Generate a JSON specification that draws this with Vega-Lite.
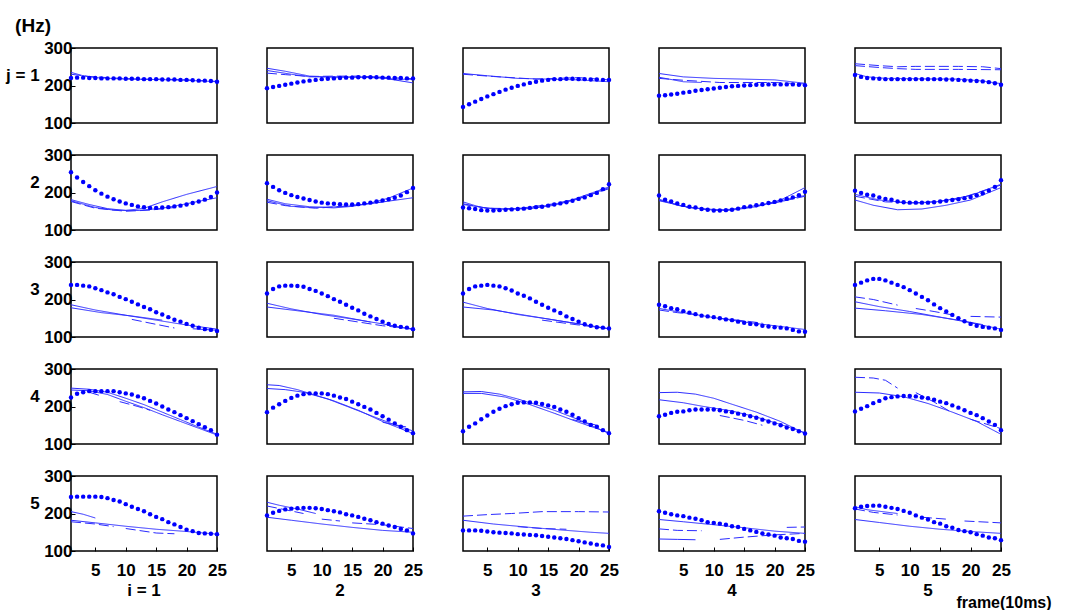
{
 "$schema": "https://vega.github.io/schema/vega-lite/v6.json",
 "padding": {"left": 6, "top": 17, "right": 0, "bottom": 0},
 "background": "white",
 "bounds": "flush",
 "title": {"text": "(Hz)", "anchor": "start", "frame": "bounds", "font": "Liberation Sans", "fontSize": 19, "fontWeight": "bold", "color": "black", "offset": 3, "dx": 9},
 "data": {"values": [
{"i":1,"j":1,"s":"d","x":1,"y":220},{"i":1,"j":1,"s":"d","x":2,"y":221},{"i":1,"j":1,"s":"d","x":3,"y":221},{"i":1,"j":1,"s":"d","x":4,"y":220},{"i":1,"j":1,"s":"d","x":5,"y":220},{"i":1,"j":1,"s":"d","x":6,"y":219},{"i":1,"j":1,"s":"d","x":7,"y":219},{"i":1,"j":1,"s":"d","x":8,"y":219},{"i":1,"j":1,"s":"d","x":9,"y":219},{"i":1,"j":1,"s":"d","x":10,"y":218},{"i":1,"j":1,"s":"d","x":11,"y":218},{"i":1,"j":1,"s":"d","x":12,"y":218},{"i":1,"j":1,"s":"d","x":13,"y":217},{"i":1,"j":1,"s":"d","x":14,"y":217},{"i":1,"j":1,"s":"d","x":15,"y":217},{"i":1,"j":1,"s":"d","x":16,"y":216},{"i":1,"j":1,"s":"d","x":17,"y":216},{"i":1,"j":1,"s":"d","x":18,"y":216},{"i":1,"j":1,"s":"d","x":19,"y":215},{"i":1,"j":1,"s":"d","x":20,"y":215},{"i":1,"j":1,"s":"d","x":21,"y":214},{"i":1,"j":1,"s":"d","x":22,"y":213},{"i":1,"j":1,"s":"d","x":23,"y":213},{"i":1,"j":1,"s":"d","x":24,"y":212},{"i":1,"j":1,"s":"d","x":25,"y":210},
{"i":2,"j":1,"s":"d","x":1,"y":193},{"i":2,"j":1,"s":"d","x":2,"y":196},{"i":2,"j":1,"s":"d","x":3,"y":199},{"i":2,"j":1,"s":"d","x":4,"y":202},{"i":2,"j":1,"s":"d","x":5,"y":205},{"i":2,"j":1,"s":"d","x":6,"y":208},{"i":2,"j":1,"s":"d","x":7,"y":211},{"i":2,"j":1,"s":"d","x":8,"y":213},{"i":2,"j":1,"s":"d","x":9,"y":215},{"i":2,"j":1,"s":"d","x":10,"y":217},{"i":2,"j":1,"s":"d","x":11,"y":218},{"i":2,"j":1,"s":"d","x":12,"y":219},{"i":2,"j":1,"s":"d","x":13,"y":220},{"i":2,"j":1,"s":"d","x":14,"y":221},{"i":2,"j":1,"s":"d","x":15,"y":221},{"i":2,"j":1,"s":"d","x":16,"y":222},{"i":2,"j":1,"s":"d","x":17,"y":222},{"i":2,"j":1,"s":"d","x":18,"y":222},{"i":2,"j":1,"s":"d","x":19,"y":222},{"i":2,"j":1,"s":"d","x":20,"y":221},{"i":2,"j":1,"s":"d","x":21,"y":221},{"i":2,"j":1,"s":"d","x":22,"y":220},{"i":2,"j":1,"s":"d","x":23,"y":220},{"i":2,"j":1,"s":"d","x":24,"y":219},{"i":2,"j":1,"s":"d","x":25,"y":219},
{"i":3,"j":1,"s":"d","x":1,"y":143},{"i":3,"j":1,"s":"d","x":2,"y":150},{"i":3,"j":1,"s":"d","x":3,"y":157},{"i":3,"j":1,"s":"d","x":4,"y":164},{"i":3,"j":1,"s":"d","x":5,"y":171},{"i":3,"j":1,"s":"d","x":6,"y":177},{"i":3,"j":1,"s":"d","x":7,"y":183},{"i":3,"j":1,"s":"d","x":8,"y":189},{"i":3,"j":1,"s":"d","x":9,"y":194},{"i":3,"j":1,"s":"d","x":10,"y":199},{"i":3,"j":1,"s":"d","x":11,"y":203},{"i":3,"j":1,"s":"d","x":12,"y":207},{"i":3,"j":1,"s":"d","x":13,"y":210},{"i":3,"j":1,"s":"d","x":14,"y":213},{"i":3,"j":1,"s":"d","x":15,"y":215},{"i":3,"j":1,"s":"d","x":16,"y":217},{"i":3,"j":1,"s":"d","x":17,"y":217},{"i":3,"j":1,"s":"d","x":18,"y":218},{"i":3,"j":1,"s":"d","x":19,"y":218},{"i":3,"j":1,"s":"d","x":20,"y":217},{"i":3,"j":1,"s":"d","x":21,"y":217},{"i":3,"j":1,"s":"d","x":22,"y":216},{"i":3,"j":1,"s":"d","x":23,"y":216},{"i":3,"j":1,"s":"d","x":24,"y":215},{"i":3,"j":1,"s":"d","x":25,"y":215},
{"i":4,"j":1,"s":"d","x":1,"y":173},{"i":4,"j":1,"s":"d","x":2,"y":174},{"i":4,"j":1,"s":"d","x":3,"y":176},{"i":4,"j":1,"s":"d","x":4,"y":178},{"i":4,"j":1,"s":"d","x":5,"y":181},{"i":4,"j":1,"s":"d","x":6,"y":183},{"i":4,"j":1,"s":"d","x":7,"y":186},{"i":4,"j":1,"s":"d","x":8,"y":188},{"i":4,"j":1,"s":"d","x":9,"y":190},{"i":4,"j":1,"s":"d","x":10,"y":192},{"i":4,"j":1,"s":"d","x":11,"y":194},{"i":4,"j":1,"s":"d","x":12,"y":196},{"i":4,"j":1,"s":"d","x":13,"y":198},{"i":4,"j":1,"s":"d","x":14,"y":199},{"i":4,"j":1,"s":"d","x":15,"y":200},{"i":4,"j":1,"s":"d","x":16,"y":201},{"i":4,"j":1,"s":"d","x":17,"y":202},{"i":4,"j":1,"s":"d","x":18,"y":202},{"i":4,"j":1,"s":"d","x":19,"y":203},{"i":4,"j":1,"s":"d","x":20,"y":203},{"i":4,"j":1,"s":"d","x":21,"y":203},{"i":4,"j":1,"s":"d","x":22,"y":203},{"i":4,"j":1,"s":"d","x":23,"y":203},{"i":4,"j":1,"s":"d","x":24,"y":202},{"i":4,"j":1,"s":"d","x":25,"y":201},
{"i":5,"j":1,"s":"d","x":1,"y":228},{"i":5,"j":1,"s":"d","x":2,"y":223},{"i":5,"j":1,"s":"d","x":3,"y":220},{"i":5,"j":1,"s":"d","x":4,"y":219},{"i":5,"j":1,"s":"d","x":5,"y":218},{"i":5,"j":1,"s":"d","x":6,"y":217},{"i":5,"j":1,"s":"d","x":7,"y":217},{"i":5,"j":1,"s":"d","x":8,"y":217},{"i":5,"j":1,"s":"d","x":9,"y":217},{"i":5,"j":1,"s":"d","x":10,"y":217},{"i":5,"j":1,"s":"d","x":11,"y":217},{"i":5,"j":1,"s":"d","x":12,"y":217},{"i":5,"j":1,"s":"d","x":13,"y":217},{"i":5,"j":1,"s":"d","x":14,"y":217},{"i":5,"j":1,"s":"d","x":15,"y":217},{"i":5,"j":1,"s":"d","x":16,"y":216},{"i":5,"j":1,"s":"d","x":17,"y":216},{"i":5,"j":1,"s":"d","x":18,"y":215},{"i":5,"j":1,"s":"d","x":19,"y":214},{"i":5,"j":1,"s":"d","x":20,"y":213},{"i":5,"j":1,"s":"d","x":21,"y":212},{"i":5,"j":1,"s":"d","x":22,"y":211},{"i":5,"j":1,"s":"d","x":23,"y":209},{"i":5,"j":1,"s":"d","x":24,"y":206},{"i":5,"j":1,"s":"d","x":25,"y":202},
{"i":1,"j":2,"s":"d","x":1,"y":254},{"i":1,"j":2,"s":"d","x":2,"y":240},{"i":1,"j":2,"s":"d","x":3,"y":228},{"i":1,"j":2,"s":"d","x":4,"y":217},{"i":1,"j":2,"s":"d","x":5,"y":206},{"i":1,"j":2,"s":"d","x":6,"y":197},{"i":1,"j":2,"s":"d","x":7,"y":189},{"i":1,"j":2,"s":"d","x":8,"y":182},{"i":1,"j":2,"s":"d","x":9,"y":176},{"i":1,"j":2,"s":"d","x":10,"y":171},{"i":1,"j":2,"s":"d","x":11,"y":167},{"i":1,"j":2,"s":"d","x":12,"y":163},{"i":1,"j":2,"s":"d","x":13,"y":161},{"i":1,"j":2,"s":"d","x":14,"y":159},{"i":1,"j":2,"s":"d","x":15,"y":159},{"i":1,"j":2,"s":"d","x":16,"y":160},{"i":1,"j":2,"s":"d","x":17,"y":161},{"i":1,"j":2,"s":"d","x":18,"y":163},{"i":1,"j":2,"s":"d","x":19,"y":165},{"i":1,"j":2,"s":"d","x":20,"y":168},{"i":1,"j":2,"s":"d","x":21,"y":172},{"i":1,"j":2,"s":"d","x":22,"y":176},{"i":1,"j":2,"s":"d","x":23,"y":181},{"i":1,"j":2,"s":"d","x":24,"y":188},{"i":1,"j":2,"s":"d","x":25,"y":200},
{"i":2,"j":2,"s":"d","x":1,"y":225},{"i":2,"j":2,"s":"d","x":2,"y":215},{"i":2,"j":2,"s":"d","x":3,"y":206},{"i":2,"j":2,"s":"d","x":4,"y":199},{"i":2,"j":2,"s":"d","x":5,"y":193},{"i":2,"j":2,"s":"d","x":6,"y":188},{"i":2,"j":2,"s":"d","x":7,"y":184},{"i":2,"j":2,"s":"d","x":8,"y":180},{"i":2,"j":2,"s":"d","x":9,"y":176},{"i":2,"j":2,"s":"d","x":10,"y":173},{"i":2,"j":2,"s":"d","x":11,"y":171},{"i":2,"j":2,"s":"d","x":12,"y":170},{"i":2,"j":2,"s":"d","x":13,"y":169},{"i":2,"j":2,"s":"d","x":14,"y":168},{"i":2,"j":2,"s":"d","x":15,"y":168},{"i":2,"j":2,"s":"d","x":16,"y":169},{"i":2,"j":2,"s":"d","x":17,"y":171},{"i":2,"j":2,"s":"d","x":18,"y":173},{"i":2,"j":2,"s":"d","x":19,"y":176},{"i":2,"j":2,"s":"d","x":20,"y":179},{"i":2,"j":2,"s":"d","x":21,"y":182},{"i":2,"j":2,"s":"d","x":22,"y":186},{"i":2,"j":2,"s":"d","x":23,"y":192},{"i":2,"j":2,"s":"d","x":24,"y":201},{"i":2,"j":2,"s":"d","x":25,"y":212},
{"i":3,"j":2,"s":"d","x":1,"y":160},{"i":3,"j":2,"s":"d","x":2,"y":158},{"i":3,"j":2,"s":"d","x":3,"y":156},{"i":3,"j":2,"s":"d","x":4,"y":153},{"i":3,"j":2,"s":"d","x":5,"y":152},{"i":3,"j":2,"s":"d","x":6,"y":152},{"i":3,"j":2,"s":"d","x":7,"y":153},{"i":3,"j":2,"s":"d","x":8,"y":154},{"i":3,"j":2,"s":"d","x":9,"y":155},{"i":3,"j":2,"s":"d","x":10,"y":156},{"i":3,"j":2,"s":"d","x":11,"y":157},{"i":3,"j":2,"s":"d","x":12,"y":159},{"i":3,"j":2,"s":"d","x":13,"y":161},{"i":3,"j":2,"s":"d","x":14,"y":162},{"i":3,"j":2,"s":"d","x":15,"y":165},{"i":3,"j":2,"s":"d","x":16,"y":168},{"i":3,"j":2,"s":"d","x":17,"y":171},{"i":3,"j":2,"s":"d","x":18,"y":174},{"i":3,"j":2,"s":"d","x":19,"y":178},{"i":3,"j":2,"s":"d","x":20,"y":183},{"i":3,"j":2,"s":"d","x":21,"y":187},{"i":3,"j":2,"s":"d","x":22,"y":193},{"i":3,"j":2,"s":"d","x":23,"y":199},{"i":3,"j":2,"s":"d","x":24,"y":209},{"i":3,"j":2,"s":"d","x":25,"y":222},
{"i":4,"j":2,"s":"d","x":1,"y":192},{"i":4,"j":2,"s":"d","x":2,"y":181},{"i":4,"j":2,"s":"d","x":3,"y":176},{"i":4,"j":2,"s":"d","x":4,"y":171},{"i":4,"j":2,"s":"d","x":5,"y":167},{"i":4,"j":2,"s":"d","x":6,"y":162},{"i":4,"j":2,"s":"d","x":7,"y":160},{"i":4,"j":2,"s":"d","x":8,"y":156},{"i":4,"j":2,"s":"d","x":9,"y":154},{"i":4,"j":2,"s":"d","x":10,"y":152},{"i":4,"j":2,"s":"d","x":11,"y":152},{"i":4,"j":2,"s":"d","x":12,"y":153},{"i":4,"j":2,"s":"d","x":13,"y":154},{"i":4,"j":2,"s":"d","x":14,"y":157},{"i":4,"j":2,"s":"d","x":15,"y":161},{"i":4,"j":2,"s":"d","x":16,"y":163},{"i":4,"j":2,"s":"d","x":17,"y":166},{"i":4,"j":2,"s":"d","x":18,"y":169},{"i":4,"j":2,"s":"d","x":19,"y":172},{"i":4,"j":2,"s":"d","x":20,"y":175},{"i":4,"j":2,"s":"d","x":21,"y":179},{"i":4,"j":2,"s":"d","x":22,"y":183},{"i":4,"j":2,"s":"d","x":23,"y":187},{"i":4,"j":2,"s":"d","x":24,"y":193},{"i":4,"j":2,"s":"d","x":25,"y":202},
{"i":5,"j":2,"s":"d","x":1,"y":205},{"i":5,"j":2,"s":"d","x":2,"y":199},{"i":5,"j":2,"s":"d","x":3,"y":194},{"i":5,"j":2,"s":"d","x":4,"y":192},{"i":5,"j":2,"s":"d","x":5,"y":187},{"i":5,"j":2,"s":"d","x":6,"y":183},{"i":5,"j":2,"s":"d","x":7,"y":181},{"i":5,"j":2,"s":"d","x":8,"y":176},{"i":5,"j":2,"s":"d","x":9,"y":174},{"i":5,"j":2,"s":"d","x":10,"y":173},{"i":5,"j":2,"s":"d","x":11,"y":173},{"i":5,"j":2,"s":"d","x":12,"y":173},{"i":5,"j":2,"s":"d","x":13,"y":173},{"i":5,"j":2,"s":"d","x":14,"y":174},{"i":5,"j":2,"s":"d","x":15,"y":176},{"i":5,"j":2,"s":"d","x":16,"y":178},{"i":5,"j":2,"s":"d","x":17,"y":180},{"i":5,"j":2,"s":"d","x":18,"y":182},{"i":5,"j":2,"s":"d","x":19,"y":185},{"i":5,"j":2,"s":"d","x":20,"y":188},{"i":5,"j":2,"s":"d","x":21,"y":193},{"i":5,"j":2,"s":"d","x":22,"y":198},{"i":5,"j":2,"s":"d","x":23,"y":205},{"i":5,"j":2,"s":"d","x":24,"y":215},{"i":5,"j":2,"s":"d","x":25,"y":233},
{"i":1,"j":3,"s":"d","x":1,"y":239},{"i":1,"j":3,"s":"d","x":2,"y":239},{"i":1,"j":3,"s":"d","x":3,"y":237},{"i":1,"j":3,"s":"d","x":4,"y":235},{"i":1,"j":3,"s":"d","x":5,"y":230},{"i":1,"j":3,"s":"d","x":6,"y":225},{"i":1,"j":3,"s":"d","x":7,"y":219},{"i":1,"j":3,"s":"d","x":8,"y":214},{"i":1,"j":3,"s":"d","x":9,"y":207},{"i":1,"j":3,"s":"d","x":10,"y":201},{"i":1,"j":3,"s":"d","x":11,"y":194},{"i":1,"j":3,"s":"d","x":12,"y":187},{"i":1,"j":3,"s":"d","x":13,"y":180},{"i":1,"j":3,"s":"d","x":14,"y":174},{"i":1,"j":3,"s":"d","x":15,"y":166},{"i":1,"j":3,"s":"d","x":16,"y":160},{"i":1,"j":3,"s":"d","x":17,"y":153},{"i":1,"j":3,"s":"d","x":18,"y":146},{"i":1,"j":3,"s":"d","x":19,"y":141},{"i":1,"j":3,"s":"d","x":20,"y":135},{"i":1,"j":3,"s":"d","x":21,"y":130},{"i":1,"j":3,"s":"d","x":22,"y":125},{"i":1,"j":3,"s":"d","x":23,"y":121},{"i":1,"j":3,"s":"d","x":24,"y":119},{"i":1,"j":3,"s":"d","x":25,"y":116},
{"i":2,"j":3,"s":"d","x":1,"y":216},{"i":2,"j":3,"s":"d","x":2,"y":228},{"i":2,"j":3,"s":"d","x":3,"y":235},{"i":2,"j":3,"s":"d","x":4,"y":237},{"i":2,"j":3,"s":"d","x":5,"y":237},{"i":2,"j":3,"s":"d","x":6,"y":236},{"i":2,"j":3,"s":"d","x":7,"y":234},{"i":2,"j":3,"s":"d","x":8,"y":228},{"i":2,"j":3,"s":"d","x":9,"y":223},{"i":2,"j":3,"s":"d","x":10,"y":216},{"i":2,"j":3,"s":"d","x":11,"y":209},{"i":2,"j":3,"s":"d","x":12,"y":201},{"i":2,"j":3,"s":"d","x":13,"y":194},{"i":2,"j":3,"s":"d","x":14,"y":186},{"i":2,"j":3,"s":"d","x":15,"y":178},{"i":2,"j":3,"s":"d","x":16,"y":171},{"i":2,"j":3,"s":"d","x":17,"y":162},{"i":2,"j":3,"s":"d","x":18,"y":155},{"i":2,"j":3,"s":"d","x":19,"y":148},{"i":2,"j":3,"s":"d","x":20,"y":141},{"i":2,"j":3,"s":"d","x":21,"y":135},{"i":2,"j":3,"s":"d","x":22,"y":130},{"i":2,"j":3,"s":"d","x":23,"y":127},{"i":2,"j":3,"s":"d","x":24,"y":125},{"i":2,"j":3,"s":"d","x":25,"y":121},
{"i":3,"j":3,"s":"d","x":1,"y":216},{"i":3,"j":3,"s":"d","x":2,"y":228},{"i":3,"j":3,"s":"d","x":3,"y":235},{"i":3,"j":3,"s":"d","x":4,"y":237},{"i":3,"j":3,"s":"d","x":5,"y":239},{"i":3,"j":3,"s":"d","x":6,"y":237},{"i":3,"j":3,"s":"d","x":7,"y":235},{"i":3,"j":3,"s":"d","x":8,"y":230},{"i":3,"j":3,"s":"d","x":9,"y":224},{"i":3,"j":3,"s":"d","x":10,"y":216},{"i":3,"j":3,"s":"d","x":11,"y":210},{"i":3,"j":3,"s":"d","x":12,"y":203},{"i":3,"j":3,"s":"d","x":13,"y":194},{"i":3,"j":3,"s":"d","x":14,"y":186},{"i":3,"j":3,"s":"d","x":15,"y":178},{"i":3,"j":3,"s":"d","x":16,"y":171},{"i":3,"j":3,"s":"d","x":17,"y":164},{"i":3,"j":3,"s":"d","x":18,"y":155},{"i":3,"j":3,"s":"d","x":19,"y":148},{"i":3,"j":3,"s":"d","x":20,"y":141},{"i":3,"j":3,"s":"d","x":21,"y":134},{"i":3,"j":3,"s":"d","x":22,"y":130},{"i":3,"j":3,"s":"d","x":23,"y":126},{"i":3,"j":3,"s":"d","x":24,"y":125},{"i":3,"j":3,"s":"d","x":25,"y":123},
{"i":4,"j":3,"s":"d","x":1,"y":186},{"i":4,"j":3,"s":"d","x":2,"y":182},{"i":4,"j":3,"s":"d","x":3,"y":177},{"i":4,"j":3,"s":"d","x":4,"y":174},{"i":4,"j":3,"s":"d","x":5,"y":169},{"i":4,"j":3,"s":"d","x":6,"y":165},{"i":4,"j":3,"s":"d","x":7,"y":161},{"i":4,"j":3,"s":"d","x":8,"y":157},{"i":4,"j":3,"s":"d","x":9,"y":155},{"i":4,"j":3,"s":"d","x":10,"y":153},{"i":4,"j":3,"s":"d","x":11,"y":150},{"i":4,"j":3,"s":"d","x":12,"y":147},{"i":4,"j":3,"s":"d","x":13,"y":145},{"i":4,"j":3,"s":"d","x":14,"y":141},{"i":4,"j":3,"s":"d","x":15,"y":138},{"i":4,"j":3,"s":"d","x":16,"y":135},{"i":4,"j":3,"s":"d","x":17,"y":134},{"i":4,"j":3,"s":"d","x":18,"y":130},{"i":4,"j":3,"s":"d","x":19,"y":128},{"i":4,"j":3,"s":"d","x":20,"y":126},{"i":4,"j":3,"s":"d","x":21,"y":125},{"i":4,"j":3,"s":"d","x":22,"y":123},{"i":4,"j":3,"s":"d","x":23,"y":119},{"i":4,"j":3,"s":"d","x":24,"y":115},{"i":4,"j":3,"s":"d","x":25,"y":114},
{"i":5,"j":3,"s":"d","x":1,"y":239},{"i":5,"j":3,"s":"d","x":2,"y":245},{"i":5,"j":3,"s":"d","x":3,"y":251},{"i":5,"j":3,"s":"d","x":4,"y":255},{"i":5,"j":3,"s":"d","x":5,"y":255},{"i":5,"j":3,"s":"d","x":6,"y":251},{"i":5,"j":3,"s":"d","x":7,"y":245},{"i":5,"j":3,"s":"d","x":8,"y":239},{"i":5,"j":3,"s":"d","x":9,"y":233},{"i":5,"j":3,"s":"d","x":10,"y":225},{"i":5,"j":3,"s":"d","x":11,"y":216},{"i":5,"j":3,"s":"d","x":12,"y":207},{"i":5,"j":3,"s":"d","x":13,"y":198},{"i":5,"j":3,"s":"d","x":14,"y":187},{"i":5,"j":3,"s":"d","x":15,"y":177},{"i":5,"j":3,"s":"d","x":16,"y":168},{"i":5,"j":3,"s":"d","x":17,"y":159},{"i":5,"j":3,"s":"d","x":18,"y":150},{"i":5,"j":3,"s":"d","x":19,"y":142},{"i":5,"j":3,"s":"d","x":20,"y":135},{"i":5,"j":3,"s":"d","x":21,"y":130},{"i":5,"j":3,"s":"d","x":22,"y":127},{"i":5,"j":3,"s":"d","x":23,"y":125},{"i":5,"j":3,"s":"d","x":24,"y":123},{"i":5,"j":3,"s":"d","x":25,"y":119},
{"i":1,"j":4,"s":"d","x":1,"y":224},{"i":1,"j":4,"s":"d","x":2,"y":234},{"i":1,"j":4,"s":"d","x":3,"y":238},{"i":1,"j":4,"s":"d","x":4,"y":241},{"i":1,"j":4,"s":"d","x":5,"y":241},{"i":1,"j":4,"s":"d","x":6,"y":241},{"i":1,"j":4,"s":"d","x":7,"y":241},{"i":1,"j":4,"s":"d","x":8,"y":241},{"i":1,"j":4,"s":"d","x":9,"y":238},{"i":1,"j":4,"s":"d","x":10,"y":235},{"i":1,"j":4,"s":"d","x":11,"y":232},{"i":1,"j":4,"s":"d","x":12,"y":227},{"i":1,"j":4,"s":"d","x":13,"y":222},{"i":1,"j":4,"s":"d","x":14,"y":215},{"i":1,"j":4,"s":"d","x":15,"y":208},{"i":1,"j":4,"s":"d","x":16,"y":200},{"i":1,"j":4,"s":"d","x":17,"y":192},{"i":1,"j":4,"s":"d","x":18,"y":185},{"i":1,"j":4,"s":"d","x":19,"y":177},{"i":1,"j":4,"s":"d","x":20,"y":169},{"i":1,"j":4,"s":"d","x":21,"y":161},{"i":1,"j":4,"s":"d","x":22,"y":153},{"i":1,"j":4,"s":"d","x":23,"y":145},{"i":1,"j":4,"s":"d","x":24,"y":137},{"i":1,"j":4,"s":"d","x":25,"y":125},
{"i":2,"j":4,"s":"d","x":1,"y":185},{"i":2,"j":4,"s":"d","x":2,"y":197},{"i":2,"j":4,"s":"d","x":3,"y":206},{"i":2,"j":4,"s":"d","x":4,"y":215},{"i":2,"j":4,"s":"d","x":5,"y":223},{"i":2,"j":4,"s":"d","x":6,"y":229},{"i":2,"j":4,"s":"d","x":7,"y":233},{"i":2,"j":4,"s":"d","x":8,"y":235},{"i":2,"j":4,"s":"d","x":9,"y":235},{"i":2,"j":4,"s":"d","x":10,"y":235},{"i":2,"j":4,"s":"d","x":11,"y":233},{"i":2,"j":4,"s":"d","x":12,"y":229},{"i":2,"j":4,"s":"d","x":13,"y":224},{"i":2,"j":4,"s":"d","x":14,"y":220},{"i":2,"j":4,"s":"d","x":15,"y":213},{"i":2,"j":4,"s":"d","x":16,"y":206},{"i":2,"j":4,"s":"d","x":17,"y":199},{"i":2,"j":4,"s":"d","x":18,"y":192},{"i":2,"j":4,"s":"d","x":19,"y":183},{"i":2,"j":4,"s":"d","x":20,"y":174},{"i":2,"j":4,"s":"d","x":21,"y":165},{"i":2,"j":4,"s":"d","x":22,"y":155},{"i":2,"j":4,"s":"d","x":23,"y":146},{"i":2,"j":4,"s":"d","x":24,"y":137},{"i":2,"j":4,"s":"d","x":25,"y":129},
{"i":3,"j":4,"s":"d","x":1,"y":134},{"i":3,"j":4,"s":"d","x":2,"y":146},{"i":3,"j":4,"s":"d","x":3,"y":155},{"i":3,"j":4,"s":"d","x":4,"y":166},{"i":3,"j":4,"s":"d","x":5,"y":176},{"i":3,"j":4,"s":"d","x":6,"y":186},{"i":3,"j":4,"s":"d","x":7,"y":194},{"i":3,"j":4,"s":"d","x":8,"y":201},{"i":3,"j":4,"s":"d","x":9,"y":206},{"i":3,"j":4,"s":"d","x":10,"y":210},{"i":3,"j":4,"s":"d","x":11,"y":211},{"i":3,"j":4,"s":"d","x":12,"y":211},{"i":3,"j":4,"s":"d","x":13,"y":210},{"i":3,"j":4,"s":"d","x":14,"y":207},{"i":3,"j":4,"s":"d","x":15,"y":203},{"i":3,"j":4,"s":"d","x":16,"y":199},{"i":3,"j":4,"s":"d","x":17,"y":192},{"i":3,"j":4,"s":"d","x":18,"y":186},{"i":3,"j":4,"s":"d","x":19,"y":178},{"i":3,"j":4,"s":"d","x":20,"y":169},{"i":3,"j":4,"s":"d","x":21,"y":160},{"i":3,"j":4,"s":"d","x":22,"y":151},{"i":3,"j":4,"s":"d","x":23,"y":146},{"i":3,"j":4,"s":"d","x":24,"y":137},{"i":3,"j":4,"s":"d","x":25,"y":129},
{"i":4,"j":4,"s":"d","x":1,"y":174},{"i":4,"j":4,"s":"d","x":2,"y":178},{"i":4,"j":4,"s":"d","x":3,"y":183},{"i":4,"j":4,"s":"d","x":4,"y":186},{"i":4,"j":4,"s":"d","x":5,"y":187},{"i":4,"j":4,"s":"d","x":6,"y":190},{"i":4,"j":4,"s":"d","x":7,"y":192},{"i":4,"j":4,"s":"d","x":8,"y":192},{"i":4,"j":4,"s":"d","x":9,"y":192},{"i":4,"j":4,"s":"d","x":10,"y":192},{"i":4,"j":4,"s":"d","x":11,"y":190},{"i":4,"j":4,"s":"d","x":12,"y":187},{"i":4,"j":4,"s":"d","x":13,"y":185},{"i":4,"j":4,"s":"d","x":14,"y":181},{"i":4,"j":4,"s":"d","x":15,"y":178},{"i":4,"j":4,"s":"d","x":16,"y":174},{"i":4,"j":4,"s":"d","x":17,"y":170},{"i":4,"j":4,"s":"d","x":18,"y":165},{"i":4,"j":4,"s":"d","x":19,"y":160},{"i":4,"j":4,"s":"d","x":20,"y":155},{"i":4,"j":4,"s":"d","x":21,"y":150},{"i":4,"j":4,"s":"d","x":22,"y":144},{"i":4,"j":4,"s":"d","x":23,"y":140},{"i":4,"j":4,"s":"d","x":24,"y":134},{"i":4,"j":4,"s":"d","x":25,"y":128},
{"i":5,"j":4,"s":"d","x":1,"y":187},{"i":5,"j":4,"s":"d","x":2,"y":194},{"i":5,"j":4,"s":"d","x":3,"y":201},{"i":5,"j":4,"s":"d","x":4,"y":209},{"i":5,"j":4,"s":"d","x":5,"y":215},{"i":5,"j":4,"s":"d","x":6,"y":222},{"i":5,"j":4,"s":"d","x":7,"y":225},{"i":5,"j":4,"s":"d","x":8,"y":227},{"i":5,"j":4,"s":"d","x":9,"y":228},{"i":5,"j":4,"s":"d","x":10,"y":228},{"i":5,"j":4,"s":"d","x":11,"y":227},{"i":5,"j":4,"s":"d","x":12,"y":224},{"i":5,"j":4,"s":"d","x":13,"y":222},{"i":5,"j":4,"s":"d","x":14,"y":218},{"i":5,"j":4,"s":"d","x":15,"y":213},{"i":5,"j":4,"s":"d","x":16,"y":209},{"i":5,"j":4,"s":"d","x":17,"y":203},{"i":5,"j":4,"s":"d","x":18,"y":197},{"i":5,"j":4,"s":"d","x":19,"y":190},{"i":5,"j":4,"s":"d","x":20,"y":183},{"i":5,"j":4,"s":"d","x":21,"y":177},{"i":5,"j":4,"s":"d","x":22,"y":169},{"i":5,"j":4,"s":"d","x":23,"y":160},{"i":5,"j":4,"s":"d","x":24,"y":151},{"i":5,"j":4,"s":"d","x":25,"y":137},
{"i":1,"j":5,"s":"d","x":1,"y":244},{"i":1,"j":5,"s":"d","x":2,"y":245},{"i":1,"j":5,"s":"d","x":3,"y":245},{"i":1,"j":5,"s":"d","x":4,"y":245},{"i":1,"j":5,"s":"d","x":5,"y":245},{"i":1,"j":5,"s":"d","x":6,"y":244},{"i":1,"j":5,"s":"d","x":7,"y":241},{"i":1,"j":5,"s":"d","x":8,"y":236},{"i":1,"j":5,"s":"d","x":9,"y":232},{"i":1,"j":5,"s":"d","x":10,"y":225},{"i":1,"j":5,"s":"d","x":11,"y":218},{"i":1,"j":5,"s":"d","x":12,"y":212},{"i":1,"j":5,"s":"d","x":13,"y":206},{"i":1,"j":5,"s":"d","x":14,"y":198},{"i":1,"j":5,"s":"d","x":15,"y":191},{"i":1,"j":5,"s":"d","x":16,"y":185},{"i":1,"j":5,"s":"d","x":17,"y":177},{"i":1,"j":5,"s":"d","x":18,"y":171},{"i":1,"j":5,"s":"d","x":19,"y":164},{"i":1,"j":5,"s":"d","x":20,"y":157},{"i":1,"j":5,"s":"d","x":21,"y":153},{"i":1,"j":5,"s":"d","x":22,"y":148},{"i":1,"j":5,"s":"d","x":23,"y":147},{"i":1,"j":5,"s":"d","x":24,"y":146},{"i":1,"j":5,"s":"d","x":25,"y":145},
{"i":2,"j":5,"s":"d","x":1,"y":195},{"i":2,"j":5,"s":"d","x":2,"y":202},{"i":2,"j":5,"s":"d","x":3,"y":207},{"i":2,"j":5,"s":"d","x":4,"y":211},{"i":2,"j":5,"s":"d","x":5,"y":213},{"i":2,"j":5,"s":"d","x":6,"y":214},{"i":2,"j":5,"s":"d","x":7,"y":215},{"i":2,"j":5,"s":"d","x":8,"y":215},{"i":2,"j":5,"s":"d","x":9,"y":214},{"i":2,"j":5,"s":"d","x":10,"y":212},{"i":2,"j":5,"s":"d","x":11,"y":209},{"i":2,"j":5,"s":"d","x":12,"y":206},{"i":2,"j":5,"s":"d","x":13,"y":203},{"i":2,"j":5,"s":"d","x":14,"y":198},{"i":2,"j":5,"s":"d","x":15,"y":195},{"i":2,"j":5,"s":"d","x":16,"y":191},{"i":2,"j":5,"s":"d","x":17,"y":186},{"i":2,"j":5,"s":"d","x":18,"y":182},{"i":2,"j":5,"s":"d","x":19,"y":177},{"i":2,"j":5,"s":"d","x":20,"y":173},{"i":2,"j":5,"s":"d","x":21,"y":168},{"i":2,"j":5,"s":"d","x":22,"y":164},{"i":2,"j":5,"s":"d","x":23,"y":159},{"i":2,"j":5,"s":"d","x":24,"y":155},{"i":2,"j":5,"s":"d","x":25,"y":147},
{"i":3,"j":5,"s":"d","x":1,"y":155},{"i":3,"j":5,"s":"d","x":2,"y":155},{"i":3,"j":5,"s":"d","x":3,"y":155},{"i":3,"j":5,"s":"d","x":4,"y":154},{"i":3,"j":5,"s":"d","x":5,"y":152},{"i":3,"j":5,"s":"d","x":6,"y":150},{"i":3,"j":5,"s":"d","x":7,"y":149},{"i":3,"j":5,"s":"d","x":8,"y":148},{"i":3,"j":5,"s":"d","x":9,"y":147},{"i":3,"j":5,"s":"d","x":10,"y":145},{"i":3,"j":5,"s":"d","x":11,"y":144},{"i":3,"j":5,"s":"d","x":12,"y":143},{"i":3,"j":5,"s":"d","x":13,"y":142},{"i":3,"j":5,"s":"d","x":14,"y":140},{"i":3,"j":5,"s":"d","x":15,"y":138},{"i":3,"j":5,"s":"d","x":16,"y":136},{"i":3,"j":5,"s":"d","x":17,"y":134},{"i":3,"j":5,"s":"d","x":18,"y":132},{"i":3,"j":5,"s":"d","x":19,"y":129},{"i":3,"j":5,"s":"d","x":20,"y":126},{"i":3,"j":5,"s":"d","x":21,"y":123},{"i":3,"j":5,"s":"d","x":22,"y":120},{"i":3,"j":5,"s":"d","x":23,"y":117},{"i":3,"j":5,"s":"d","x":24,"y":115},{"i":3,"j":5,"s":"d","x":25,"y":111},
{"i":4,"j":5,"s":"d","x":1,"y":206},{"i":4,"j":5,"s":"d","x":2,"y":202},{"i":4,"j":5,"s":"d","x":3,"y":198},{"i":4,"j":5,"s":"d","x":4,"y":195},{"i":4,"j":5,"s":"d","x":5,"y":193},{"i":4,"j":5,"s":"d","x":6,"y":189},{"i":4,"j":5,"s":"d","x":7,"y":186},{"i":4,"j":5,"s":"d","x":8,"y":182},{"i":4,"j":5,"s":"d","x":9,"y":177},{"i":4,"j":5,"s":"d","x":10,"y":175},{"i":4,"j":5,"s":"d","x":11,"y":173},{"i":4,"j":5,"s":"d","x":12,"y":170},{"i":4,"j":5,"s":"d","x":13,"y":166},{"i":4,"j":5,"s":"d","x":14,"y":164},{"i":4,"j":5,"s":"d","x":15,"y":159},{"i":4,"j":5,"s":"d","x":16,"y":155},{"i":4,"j":5,"s":"d","x":17,"y":151},{"i":4,"j":5,"s":"d","x":18,"y":147},{"i":4,"j":5,"s":"d","x":19,"y":144},{"i":4,"j":5,"s":"d","x":20,"y":141},{"i":4,"j":5,"s":"d","x":21,"y":136},{"i":4,"j":5,"s":"d","x":22,"y":134},{"i":4,"j":5,"s":"d","x":23,"y":132},{"i":4,"j":5,"s":"d","x":24,"y":127},{"i":4,"j":5,"s":"d","x":25,"y":125},
{"i":5,"j":5,"s":"d","x":1,"y":214},{"i":5,"j":5,"s":"d","x":2,"y":218},{"i":5,"j":5,"s":"d","x":3,"y":220},{"i":5,"j":5,"s":"d","x":4,"y":221},{"i":5,"j":5,"s":"d","x":5,"y":221},{"i":5,"j":5,"s":"d","x":6,"y":218},{"i":5,"j":5,"s":"d","x":7,"y":215},{"i":5,"j":5,"s":"d","x":8,"y":212},{"i":5,"j":5,"s":"d","x":9,"y":207},{"i":5,"j":5,"s":"d","x":10,"y":202},{"i":5,"j":5,"s":"d","x":11,"y":195},{"i":5,"j":5,"s":"d","x":12,"y":189},{"i":5,"j":5,"s":"d","x":13,"y":184},{"i":5,"j":5,"s":"d","x":14,"y":177},{"i":5,"j":5,"s":"d","x":15,"y":173},{"i":5,"j":5,"s":"d","x":16,"y":166},{"i":5,"j":5,"s":"d","x":17,"y":162},{"i":5,"j":5,"s":"d","x":18,"y":156},{"i":5,"j":5,"s":"d","x":19,"y":153},{"i":5,"j":5,"s":"d","x":20,"y":150},{"i":5,"j":5,"s":"d","x":21,"y":145},{"i":5,"j":5,"s":"d","x":22,"y":141},{"i":5,"j":5,"s":"d","x":23,"y":136},{"i":5,"j":5,"s":"d","x":24,"y":134},{"i":5,"j":5,"s":"d","x":25,"y":129},
{"i":1,"j":1,"s":"a","x":1,"y":235},{"i":1,"j":1,"s":"a","x":3,"y":226},{"i":1,"j":1,"s":"a","x":5,"y":221},{"i":1,"j":1,"s":"a","x":10,"y":217},{"i":1,"j":1,"s":"a","x":15,"y":216},{"i":1,"j":1,"s":"a","x":20,"y":214},{"i":1,"j":1,"s":"a","x":25,"y":210},
{"i":1,"j":1,"s":"c","x":1,"y":230},{"i":1,"j":1,"s":"c","x":4,"y":224},{"i":1,"j":1,"s":"c","x":8,"y":220},{"i":1,"j":1,"s":"c","x":12,"y":217},{"i":1,"j":1,"s":"c","x":16,"y":217},{"i":1,"j":1,"s":"c","x":20,"y":215},{"i":1,"j":1,"s":"c","x":25,"y":211},
{"i":2,"j":1,"s":"a","x":1,"y":246},{"i":2,"j":1,"s":"a","x":4,"y":238},{"i":2,"j":1,"s":"a","x":8,"y":225},{"i":2,"j":1,"s":"a","x":12,"y":222},{"i":2,"j":1,"s":"a","x":16,"y":222},{"i":2,"j":1,"s":"a","x":20,"y":220},{"i":2,"j":1,"s":"a","x":25,"y":207},
{"i":2,"j":1,"s":"b","x":1,"y":240},{"i":2,"j":1,"s":"b","x":5,"y":230},{"i":2,"j":1,"s":"b","x":8,"y":223},{"i":2,"j":1,"s":"b","x":13,"y":223},{"i":2,"j":1,"s":"b","x":18,"y":223},{"i":2,"j":1,"s":"b","x":22,"y":217},{"i":2,"j":1,"s":"b","x":25,"y":216},
{"i":2,"j":1,"s":"c","x":1,"y":233},{"i":2,"j":1,"s":"c","x":4,"y":229},{"i":2,"j":1,"s":"c","x":8,"y":224},{"i":2,"j":1,"s":"c","x":12,"y":225},{"i":2,"j":1,"s":"c","x":16,"y":225},{"i":2,"j":1,"s":"c","x":20,"y":222},{"i":2,"j":1,"s":"c","x":25,"y":218},
{"i":3,"j":1,"s":"a","x":1,"y":232},{"i":3,"j":1,"s":"a","x":5,"y":226},{"i":3,"j":1,"s":"a","x":10,"y":219},{"i":3,"j":1,"s":"a","x":15,"y":217},{"i":3,"j":1,"s":"a","x":20,"y":215},{"i":3,"j":1,"s":"a","x":25,"y":210},
{"i":3,"j":1,"s":"c","x":1,"y":230},{"i":3,"j":1,"s":"c","x":6,"y":224},{"i":3,"j":1,"s":"c","x":13,"y":217},{"i":3,"j":1,"s":"c","x":20,"y":221},{"i":3,"j":1,"s":"c","x":25,"y":215},
{"i":4,"j":1,"s":"a","x":1,"y":232},{"i":4,"j":1,"s":"a","x":5,"y":223},{"i":4,"j":1,"s":"a","x":10,"y":219},{"i":4,"j":1,"s":"a","x":15,"y":217},{"i":4,"j":1,"s":"a","x":20,"y":215},{"i":4,"j":1,"s":"a","x":25,"y":206},
{"i":4,"j":1,"s":"b","x":1,"y":222},{"i":4,"j":1,"s":"b","x":5,"y":210},{"i":4,"j":1,"s":"b","x":8,"y":208},
{"i":4,"j":1,"s":"c","x":1,"y":219},{"i":4,"j":1,"s":"c","x":5,"y":214},{"i":4,"j":1,"s":"c","x":11,"y":208},{"i":4,"j":1,"s":"c","x":20,"y":208},{"i":4,"j":1,"s":"c","x":25,"y":204},
{"i":5,"j":1,"s":"a","x":1,"y":232},{"i":5,"j":1,"s":"a","x":3,"y":223},{"i":5,"j":1,"s":"a","x":6,"y":219},{"i":5,"j":1,"s":"a","x":12,"y":218},{"i":5,"j":1,"s":"a","x":18,"y":217},{"i":5,"j":1,"s":"a","x":22,"y":212},{"i":5,"j":1,"s":"a","x":25,"y":205},
{"i":5,"j":1,"s":"c","x":1,"y":258},{"i":5,"j":1,"s":"c","x":5,"y":253},{"i":5,"j":1,"s":"c","x":8,"y":250},{"i":5,"j":1,"s":"c","x":11,"y":251},{"i":5,"j":1,"s":"c","x":18,"y":251},{"i":5,"j":1,"s":"c","x":22,"y":250},{"i":5,"j":1,"s":"c","x":25,"y":245},
{"i":5,"j":1,"s":"e","x":1,"y":253},{"i":5,"j":1,"s":"e","x":5,"y":248},{"i":5,"j":1,"s":"e","x":8,"y":245},{"i":5,"j":1,"s":"e","x":11,"y":243},{"i":5,"j":1,"s":"e","x":18,"y":243},{"i":5,"j":1,"s":"e","x":25,"y":242},
{"i":1,"j":2,"s":"a","x":1,"y":181},{"i":1,"j":2,"s":"a","x":4,"y":168},{"i":1,"j":2,"s":"a","x":7,"y":157},{"i":1,"j":2,"s":"a","x":10,"y":152},{"i":1,"j":2,"s":"a","x":13,"y":158},{"i":1,"j":2,"s":"a","x":16,"y":175},{"i":1,"j":2,"s":"a","x":20,"y":195},{"i":1,"j":2,"s":"a","x":25,"y":216},
{"i":1,"j":2,"s":"b","x":1,"y":178},{"i":1,"j":2,"s":"b","x":5,"y":160},{"i":1,"j":2,"s":"b","x":8,"y":153},{"i":1,"j":2,"s":"b","x":12,"y":152},{"i":1,"j":2,"s":"b","x":16,"y":158},{"i":1,"j":2,"s":"b","x":20,"y":170},{"i":1,"j":2,"s":"b","x":25,"y":186},
{"i":1,"j":2,"s":"c","x":1,"y":176},{"i":1,"j":2,"s":"c","x":5,"y":158},{"i":1,"j":2,"s":"c","x":10,"y":150},{"i":1,"j":2,"s":"c","x":14,"y":153},{"i":1,"j":2,"s":"c","x":18,"y":160},
{"i":2,"j":2,"s":"a","x":1,"y":182},{"i":2,"j":2,"s":"a","x":4,"y":170},{"i":2,"j":2,"s":"a","x":8,"y":162},{"i":2,"j":2,"s":"a","x":12,"y":159},{"i":2,"j":2,"s":"a","x":15,"y":163},{"i":2,"j":2,"s":"a","x":18,"y":172},{"i":2,"j":2,"s":"a","x":21,"y":185},{"i":2,"j":2,"s":"a","x":25,"y":212},
{"i":2,"j":2,"s":"b","x":1,"y":178},{"i":2,"j":2,"s":"b","x":5,"y":163},{"i":2,"j":2,"s":"b","x":8,"y":160},{"i":2,"j":2,"s":"b","x":13,"y":162},{"i":2,"j":2,"s":"b","x":17,"y":168},{"i":2,"j":2,"s":"b","x":21,"y":177},{"i":2,"j":2,"s":"b","x":25,"y":186},
{"i":2,"j":2,"s":"c","x":1,"y":174},{"i":2,"j":2,"s":"c","x":4,"y":165},{"i":2,"j":2,"s":"c","x":9,"y":158},{"i":2,"j":2,"s":"c","x":14,"y":164},{"i":2,"j":2,"s":"c","x":20,"y":175},
{"i":3,"j":2,"s":"a","x":1,"y":175},{"i":3,"j":2,"s":"a","x":4,"y":160},{"i":3,"j":2,"s":"a","x":8,"y":155},{"i":3,"j":2,"s":"a","x":12,"y":157},{"i":3,"j":2,"s":"a","x":16,"y":166},{"i":3,"j":2,"s":"a","x":20,"y":183},{"i":3,"j":2,"s":"a","x":25,"y":213},
{"i":3,"j":2,"s":"b","x":1,"y":168},{"i":3,"j":2,"s":"b","x":6,"y":156},{"i":3,"j":2,"s":"b","x":12,"y":158},{"i":3,"j":2,"s":"b","x":18,"y":175},{"i":3,"j":2,"s":"b","x":25,"y":215},
{"i":3,"j":2,"s":"c","x":1,"y":170},{"i":3,"j":2,"s":"c","x":5,"y":158},{"i":3,"j":2,"s":"c","x":10,"y":157},{"i":3,"j":2,"s":"c","x":16,"y":170},{"i":3,"j":2,"s":"c","x":20,"y":184},{"i":3,"j":2,"s":"c","x":25,"y":210},
{"i":4,"j":2,"s":"a","x":1,"y":182},{"i":4,"j":2,"s":"a","x":5,"y":163},{"i":4,"j":2,"s":"a","x":9,"y":154},{"i":4,"j":2,"s":"a","x":13,"y":153},{"i":4,"j":2,"s":"a","x":17,"y":162},{"i":4,"j":2,"s":"a","x":21,"y":180},{"i":4,"j":2,"s":"a","x":25,"y":213},
{"i":4,"j":2,"s":"b","x":1,"y":178},{"i":4,"j":2,"s":"b","x":6,"y":160},{"i":4,"j":2,"s":"b","x":12,"y":152},{"i":4,"j":2,"s":"b","x":18,"y":168},{"i":4,"j":2,"s":"b","x":25,"y":192},
{"i":4,"j":2,"s":"c","x":1,"y":180},{"i":4,"j":2,"s":"c","x":5,"y":162},{"i":4,"j":2,"s":"c","x":10,"y":152},{"i":4,"j":2,"s":"c","x":15,"y":158},{"i":4,"j":2,"s":"c","x":20,"y":172},{"i":4,"j":2,"s":"c","x":25,"y":190},
{"i":5,"j":2,"s":"a","x":1,"y":180},{"i":5,"j":2,"s":"a","x":4,"y":166},{"i":5,"j":2,"s":"a","x":8,"y":154},{"i":5,"j":2,"s":"a","x":12,"y":156},{"i":5,"j":2,"s":"a","x":16,"y":166},{"i":5,"j":2,"s":"a","x":20,"y":180},{"i":5,"j":2,"s":"a","x":25,"y":213},
{"i":5,"j":2,"s":"b","x":1,"y":195},{"i":5,"j":2,"s":"b","x":5,"y":180},{"i":5,"j":2,"s":"b","x":10,"y":172},{"i":5,"j":2,"s":"b","x":15,"y":176},{"i":5,"j":2,"s":"b","x":20,"y":192},{"i":5,"j":2,"s":"b","x":25,"y":222},
{"i":5,"j":2,"s":"c","x":1,"y":190},{"i":5,"j":2,"s":"c","x":6,"y":175},{"i":5,"j":2,"s":"c","x":12,"y":172},{"i":5,"j":2,"s":"c","x":18,"y":183},{"i":5,"j":2,"s":"c","x":25,"y":220},
{"i":1,"j":3,"s":"a","x":1,"y":186},{"i":1,"j":3,"s":"a","x":5,"y":172},{"i":1,"j":3,"s":"a","x":10,"y":158},{"i":1,"j":3,"s":"a","x":15,"y":145},{"i":1,"j":3,"s":"a","x":20,"y":132},{"i":1,"j":3,"s":"a","x":25,"y":121},
{"i":1,"j":3,"s":"b","x":1,"y":178},{"i":1,"j":3,"s":"b","x":6,"y":165},{"i":1,"j":3,"s":"b","x":11,"y":156},{"i":1,"j":3,"s":"b","x":16,"y":145},
{"i":1,"j":3,"s":"c","x":11,"y":147},{"i":1,"j":3,"s":"c","x":14,"y":137},{"i":1,"j":3,"s":"c","x":18,"y":124},
{"i":1,"j":3,"s":"e","x":21,"y":122},{"i":1,"j":3,"s":"e","x":25,"y":118},
{"i":2,"j":3,"s":"a","x":1,"y":190},{"i":2,"j":3,"s":"a","x":5,"y":175},{"i":2,"j":3,"s":"a","x":10,"y":160},{"i":2,"j":3,"s":"a","x":15,"y":148},{"i":2,"j":3,"s":"a","x":20,"y":135},{"i":2,"j":3,"s":"a","x":25,"y":120},
{"i":2,"j":3,"s":"b","x":1,"y":180},{"i":2,"j":3,"s":"b","x":6,"y":170},{"i":2,"j":3,"s":"b","x":12,"y":158},{"i":2,"j":3,"s":"b","x":18,"y":140},
{"i":2,"j":3,"s":"c","x":12,"y":150},{"i":2,"j":3,"s":"c","x":16,"y":140},{"i":2,"j":3,"s":"c","x":20,"y":130},{"i":2,"j":3,"s":"c","x":25,"y":122},
{"i":3,"j":3,"s":"a","x":1,"y":193},{"i":3,"j":3,"s":"a","x":5,"y":176},{"i":3,"j":3,"s":"a","x":10,"y":160},{"i":3,"j":3,"s":"a","x":15,"y":148},{"i":3,"j":3,"s":"a","x":20,"y":135},{"i":3,"j":3,"s":"a","x":25,"y":122},
{"i":3,"j":3,"s":"b","x":1,"y":180},{"i":3,"j":3,"s":"b","x":6,"y":172},{"i":3,"j":3,"s":"b","x":12,"y":156},{"i":3,"j":3,"s":"b","x":18,"y":140},{"i":3,"j":3,"s":"b","x":25,"y":122},
{"i":3,"j":3,"s":"c","x":14,"y":145},{"i":3,"j":3,"s":"c","x":20,"y":132},{"i":3,"j":3,"s":"c","x":25,"y":122},
{"i":4,"j":3,"s":"a","x":1,"y":176},{"i":4,"j":3,"s":"a","x":5,"y":165},{"i":4,"j":3,"s":"a","x":10,"y":152},{"i":4,"j":3,"s":"a","x":15,"y":140},{"i":4,"j":3,"s":"a","x":20,"y":130},{"i":4,"j":3,"s":"a","x":25,"y":120},
{"i":4,"j":3,"s":"c","x":1,"y":172},{"i":4,"j":3,"s":"c","x":4,"y":165},{"i":4,"j":3,"s":"c","x":7,"y":160},
{"i":4,"j":3,"s":"e","x":11,"y":150},{"i":4,"j":3,"s":"e","x":15,"y":143},{"i":4,"j":3,"s":"e","x":18,"y":137},
{"i":5,"j":3,"s":"a","x":1,"y":194},{"i":5,"j":3,"s":"a","x":5,"y":181},{"i":5,"j":3,"s":"a","x":10,"y":168},{"i":5,"j":3,"s":"a","x":15,"y":153},{"i":5,"j":3,"s":"a","x":20,"y":138},{"i":5,"j":3,"s":"a","x":25,"y":121},
{"i":5,"j":3,"s":"b","x":1,"y":177},{"i":5,"j":3,"s":"b","x":6,"y":170},{"i":5,"j":3,"s":"b","x":12,"y":160},{"i":5,"j":3,"s":"b","x":18,"y":145},{"i":5,"j":3,"s":"b","x":22,"y":133},
{"i":5,"j":3,"s":"c","x":1,"y":207},{"i":5,"j":3,"s":"c","x":4,"y":200},{"i":5,"j":3,"s":"c","x":8,"y":185},
{"i":5,"j":3,"s":"e","x":11,"y":176},{"i":5,"j":3,"s":"e","x":14,"y":168},{"i":5,"j":3,"s":"e","x":17,"y":159},
{"i":5,"j":3,"s":"f","x":20,"y":155},{"i":5,"j":3,"s":"f","x":25,"y":153},
{"i":1,"j":4,"s":"a","x":1,"y":249},{"i":1,"j":4,"s":"a","x":4,"y":246},{"i":1,"j":4,"s":"a","x":7,"y":238},{"i":1,"j":4,"s":"a","x":10,"y":222},{"i":1,"j":4,"s":"a","x":13,"y":205},{"i":1,"j":4,"s":"a","x":16,"y":185},{"i":1,"j":4,"s":"a","x":19,"y":165},{"i":1,"j":4,"s":"a","x":22,"y":145},{"i":1,"j":4,"s":"a","x":25,"y":126},
{"i":1,"j":4,"s":"b","x":1,"y":244},{"i":1,"j":4,"s":"b","x":4,"y":242},{"i":1,"j":4,"s":"b","x":7,"y":232},{"i":1,"j":4,"s":"b","x":10,"y":214},{"i":1,"j":4,"s":"b","x":13,"y":197},{"i":1,"j":4,"s":"b","x":16,"y":178},{"i":1,"j":4,"s":"b","x":19,"y":160},{"i":1,"j":4,"s":"b","x":22,"y":142},{"i":1,"j":4,"s":"b","x":25,"y":124},
{"i":1,"j":4,"s":"c","x":9,"y":213},{"i":1,"j":4,"s":"c","x":12,"y":200},{"i":1,"j":4,"s":"c","x":14,"y":190},
{"i":1,"j":4,"s":"e","x":4,"y":238},{"i":1,"j":4,"s":"e","x":6,"y":228},
{"i":2,"j":4,"s":"a","x":1,"y":258},{"i":2,"j":4,"s":"a","x":3,"y":256},{"i":2,"j":4,"s":"a","x":6,"y":245},{"i":2,"j":4,"s":"a","x":9,"y":230},{"i":2,"j":4,"s":"a","x":12,"y":215},{"i":2,"j":4,"s":"a","x":16,"y":190},{"i":2,"j":4,"s":"a","x":20,"y":160},{"i":2,"j":4,"s":"a","x":25,"y":128},
{"i":2,"j":4,"s":"b","x":1,"y":248},{"i":2,"j":4,"s":"b","x":4,"y":245},{"i":2,"j":4,"s":"b","x":7,"y":238},{"i":2,"j":4,"s":"b","x":11,"y":220},{"i":2,"j":4,"s":"b","x":15,"y":195},{"i":2,"j":4,"s":"b","x":19,"y":170},{"i":2,"j":4,"s":"b","x":23,"y":145},{"i":2,"j":4,"s":"b","x":25,"y":135},
{"i":2,"j":4,"s":"c","x":20,"y":158},{"i":2,"j":4,"s":"c","x":24,"y":145},
{"i":3,"j":4,"s":"a","x":1,"y":239},{"i":3,"j":4,"s":"a","x":4,"y":240},{"i":3,"j":4,"s":"a","x":7,"y":233},{"i":3,"j":4,"s":"a","x":10,"y":220},{"i":3,"j":4,"s":"a","x":13,"y":205},{"i":3,"j":4,"s":"a","x":16,"y":190},{"i":3,"j":4,"s":"a","x":20,"y":165},{"i":3,"j":4,"s":"a","x":25,"y":128},
{"i":3,"j":4,"s":"b","x":1,"y":235},{"i":3,"j":4,"s":"b","x":4,"y":235},{"i":3,"j":4,"s":"b","x":8,"y":225},{"i":3,"j":4,"s":"b","x":12,"y":205},{"i":3,"j":4,"s":"b","x":16,"y":182},{"i":3,"j":4,"s":"b","x":20,"y":158},{"i":3,"j":4,"s":"b","x":25,"y":130},
{"i":3,"j":4,"s":"c","x":19,"y":165},{"i":3,"j":4,"s":"c","x":23,"y":150},
{"i":4,"j":4,"s":"a","x":1,"y":237},{"i":4,"j":4,"s":"a","x":4,"y":238},{"i":4,"j":4,"s":"a","x":7,"y":233},{"i":4,"j":4,"s":"a","x":10,"y":222},{"i":4,"j":4,"s":"a","x":13,"y":206},{"i":4,"j":4,"s":"a","x":17,"y":185},{"i":4,"j":4,"s":"a","x":21,"y":160},{"i":4,"j":4,"s":"a","x":25,"y":128},
{"i":4,"j":4,"s":"b","x":1,"y":218},{"i":4,"j":4,"s":"b","x":5,"y":210},{"i":4,"j":4,"s":"b","x":8,"y":201},{"i":4,"j":4,"s":"b","x":13,"y":188},{"i":4,"j":4,"s":"b","x":17,"y":172},{"i":4,"j":4,"s":"b","x":21,"y":152},{"i":4,"j":4,"s":"b","x":25,"y":130},
{"i":4,"j":4,"s":"c","x":11,"y":176},{"i":4,"j":4,"s":"c","x":15,"y":163},{"i":4,"j":4,"s":"c","x":18,"y":150},
{"i":5,"j":4,"s":"a","x":1,"y":238},{"i":5,"j":4,"s":"a","x":5,"y":236},{"i":5,"j":4,"s":"a","x":9,"y":226},{"i":5,"j":4,"s":"a","x":13,"y":208},{"i":5,"j":4,"s":"a","x":17,"y":185},{"i":5,"j":4,"s":"a","x":21,"y":160},{"i":5,"j":4,"s":"a","x":25,"y":126},
{"i":5,"j":4,"s":"c","x":1,"y":278},{"i":5,"j":4,"s":"c","x":4,"y":276},{"i":5,"j":4,"s":"c","x":6,"y":270},{"i":5,"j":4,"s":"c","x":8,"y":249},
{"i":5,"j":4,"s":"e","x":11,"y":237},{"i":5,"j":4,"s":"e","x":14,"y":212},{"i":5,"j":4,"s":"e","x":17,"y":183},
{"i":5,"j":4,"s":"f","x":20,"y":166},{"i":5,"j":4,"s":"f","x":25,"y":141},
{"i":1,"j":5,"s":"a","x":1,"y":205},{"i":1,"j":5,"s":"a","x":3,"y":198},{"i":1,"j":5,"s":"a","x":5,"y":188},
{"i":1,"j":5,"s":"b","x":1,"y":182},{"i":1,"j":5,"s":"b","x":5,"y":175},{"i":1,"j":5,"s":"b","x":10,"y":166},{"i":1,"j":5,"s":"b","x":15,"y":158},{"i":1,"j":5,"s":"b","x":20,"y":152},{"i":1,"j":5,"s":"b","x":25,"y":145},
{"i":1,"j":5,"s":"e","x":1,"y":178},{"i":1,"j":5,"s":"e","x":5,"y":172},{"i":1,"j":5,"s":"e","x":8,"y":165},
{"i":1,"j":5,"s":"c","x":10,"y":160},{"i":1,"j":5,"s":"c","x":15,"y":148},{"i":1,"j":5,"s":"c","x":18,"y":146},
{"i":2,"j":5,"s":"a","x":1,"y":230},{"i":2,"j":5,"s":"a","x":3,"y":222},{"i":2,"j":5,"s":"a","x":6,"y":212},{"i":2,"j":5,"s":"a","x":9,"y":200},
{"i":2,"j":5,"s":"b","x":1,"y":190},{"i":2,"j":5,"s":"b","x":5,"y":182},{"i":2,"j":5,"s":"b","x":10,"y":172},{"i":2,"j":5,"s":"b","x":15,"y":163},{"i":2,"j":5,"s":"b","x":20,"y":155},{"i":2,"j":5,"s":"b","x":25,"y":150},
{"i":2,"j":5,"s":"e","x":1,"y":220},{"i":2,"j":5,"s":"e","x":4,"y":210},{"i":2,"j":5,"s":"e","x":7,"y":200},
{"i":2,"j":5,"s":"c","x":10,"y":185},{"i":2,"j":5,"s":"c","x":13,"y":180},
{"i":2,"j":5,"s":"f","x":15,"y":175},{"i":2,"j":5,"s":"f","x":20,"y":170},{"i":2,"j":5,"s":"f","x":25,"y":160},
{"i":3,"j":5,"s":"c","x":1,"y":193},{"i":3,"j":5,"s":"c","x":5,"y":197},{"i":3,"j":5,"s":"c","x":9,"y":200},{"i":3,"j":5,"s":"c","x":14,"y":205},{"i":3,"j":5,"s":"c","x":20,"y":205},{"i":3,"j":5,"s":"c","x":25,"y":204},
{"i":3,"j":5,"s":"a","x":1,"y":182},{"i":3,"j":5,"s":"a","x":6,"y":172},{"i":3,"j":5,"s":"a","x":12,"y":163},{"i":3,"j":5,"s":"a","x":18,"y":155},{"i":3,"j":5,"s":"a","x":22,"y":150},{"i":3,"j":5,"s":"a","x":25,"y":147},
{"i":3,"j":5,"s":"e","x":10,"y":165},{"i":3,"j":5,"s":"e","x":14,"y":160},{"i":3,"j":5,"s":"e","x":18,"y":158},
{"i":4,"j":5,"s":"a","x":1,"y":184},{"i":4,"j":5,"s":"a","x":5,"y":178},{"i":4,"j":5,"s":"a","x":10,"y":170},{"i":4,"j":5,"s":"a","x":15,"y":162},{"i":4,"j":5,"s":"a","x":20,"y":153},{"i":4,"j":5,"s":"a","x":25,"y":147},
{"i":4,"j":5,"s":"c","x":1,"y":159},{"i":4,"j":5,"s":"c","x":4,"y":155},{"i":4,"j":5,"s":"c","x":8,"y":154},
{"i":4,"j":5,"s":"b","x":1,"y":132},{"i":4,"j":5,"s":"b","x":4,"y":131},{"i":4,"j":5,"s":"b","x":7,"y":130},
{"i":4,"j":5,"s":"e","x":11,"y":131},{"i":4,"j":5,"s":"e","x":15,"y":137},{"i":4,"j":5,"s":"e","x":20,"y":143},{"i":4,"j":5,"s":"e","x":25,"y":147},
{"i":4,"j":5,"s":"f","x":22,"y":163},{"i":4,"j":5,"s":"f","x":25,"y":164},
{"i":5,"j":5,"s":"a","x":1,"y":184},{"i":5,"j":5,"s":"a","x":5,"y":176},{"i":5,"j":5,"s":"a","x":10,"y":166},{"i":5,"j":5,"s":"a","x":15,"y":158},{"i":5,"j":5,"s":"a","x":20,"y":152},{"i":5,"j":5,"s":"a","x":25,"y":147},
{"i":5,"j":5,"s":"b","x":1,"y":218},{"i":5,"j":5,"s":"b","x":3,"y":210},{"i":5,"j":5,"s":"b","x":8,"y":200},
{"i":5,"j":5,"s":"c","x":1,"y":212},{"i":5,"j":5,"s":"c","x":4,"y":203},{"i":5,"j":5,"s":"c","x":8,"y":196},
{"i":5,"j":5,"s":"e","x":12,"y":190},{"i":5,"j":5,"s":"e","x":16,"y":185},
{"i":5,"j":5,"s":"f","x":19,"y":180},{"i":5,"j":5,"s":"f","x":25,"y":175}
 ]},
 "facet": {
  "row": {"field": "j", "type": "ordinal", "header": {"labelExpr": "datum.value == 1 ? 'j = 1' : datum.value", "labelOrient": "left", "labelAngle": 0, "labelAlign": "left", "labelAnchor": "middle", "labelBaseline": "line-bottom", "labelLineHeight": 20, "labelFont": "Liberation Sans", "labelFontSize": 17, "labelFontWeight": "bold", "labelColor": "black", "labelPadding": 4, "title": null}},
  "column": {"field": "i", "type": "ordinal", "header": {"labelExpr": "datum.value == 1 ? 'i = 1' : datum.value", "labelOrient": "bottom", "labelFont": "Liberation Sans", "labelFontSize": 17, "labelFontWeight": "bold", "labelColor": "black", "labelPadding": 5, "title": "frame(10ms)", "titleOrient": "bottom", "titleAnchor": "end", "titleAlign": "center", "titlePadding": -14, "titleFont": "Liberation Sans", "titleFontSize": 16, "titleFontWeight": "bold", "titleColor": "black"}}
 },
 "spacing": {"row": 32, "column": 50},
 "spec": {
  "width": 146,
  "height": 75,
  "encoding": {
   "x": {"field": "x", "type": "quantitative", "scale": {"domain": [1, 25], "nice": false, "zero": false}, "axis": {"values": [5, 10, 15, 20, 25], "title": null, "grid": false, "domain": false, "labelFont": "Liberation Sans", "labelFontSize": 17, "labelFontWeight": "bold", "labelColor": "black", "ticks": true, "tickSize": -4, "tickColor": "black", "tickWidth": 1, "labelPadding": 15, "labelFlush": false}},
   "y": {"field": "y", "type": "quantitative", "scale": {"domain": [100, 300], "nice": false, "zero": false}, "axis": {"values": [100, 200, 300], "title": null, "grid": false, "domain": false, "labelFont": "Liberation Sans", "labelFontSize": 17, "labelFontWeight": "bold", "labelColor": "black", "ticks": true, "tickSize": -4, "tickColor": "black", "tickWidth": 1, "labelPadding": 3, "labelFlush": false}}
  },
  "layer": [
   {"transform": [{"filter": "datum.s != 'd'"}], "mark": {"type": "line", "color": "#2a2aff", "strokeWidth": 1, "clip": true}, "encoding": {"strokeDash": {"field": "s", "type": "nominal", "scale": {"domain": ["a", "b", "c", "e", "f"], "range": [[1, 0], [1, 0], [10, 4], [10, 4], [10, 4]]}, "legend": null}}},
   {"transform": [{"filter": "datum.s == 'd'"}], "mark": {"type": "point", "filled": true, "color": "#0000ff", "size": 20, "opacity": 1}}
  ]
 },
 "config": {"view": {"stroke": "black", "strokeWidth": 1.5}}
}
